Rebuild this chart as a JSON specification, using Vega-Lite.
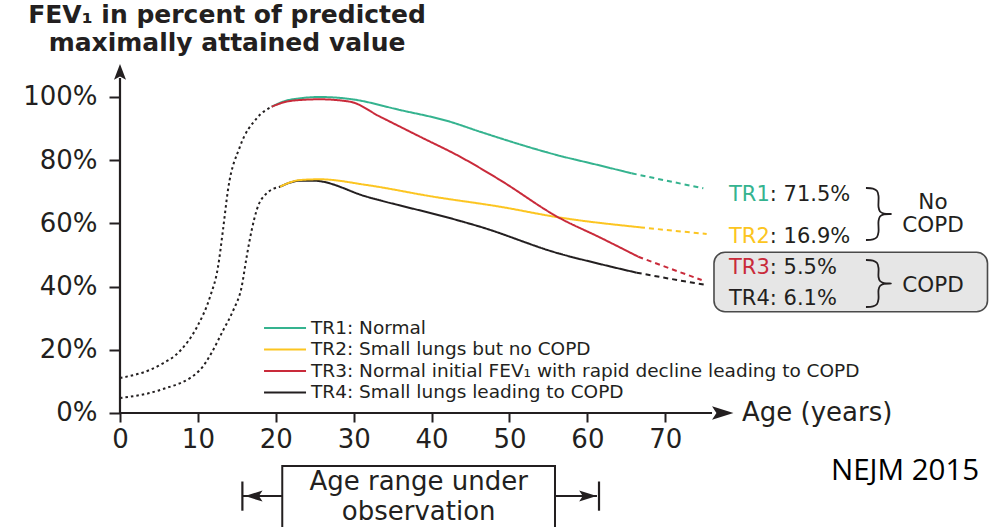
{
  "$schema": "https://vega.github.io/schema/vega-lite/v6.json",
  "width": 1000,
  "height": 527,
  "padding": 0,
  "autosize": {"type": "none"},
  "background": "white",
  "config": {"view": {"stroke": null}, "font": "DejaVu Sans"},
  "datasets": {
    "tr": [
      {"s": "TR4", "seg": "solid", "x": 20.54, "y": 71.61},
      {"s": "TR4", "seg": "solid", "x": 23.11, "y": 73.51},
      {"s": "TR4", "seg": "solid", "x": 24.81, "y": 73.51},
      {"s": "TR4", "seg": "solid", "x": 31.67, "y": 68.45},
      {"s": "TR4", "seg": "solid", "x": 43.22, "y": 61.08},
      {"s": "TR4", "seg": "solid", "x": 46.21, "y": 58.96},
      {"s": "TR4", "seg": "solid", "x": 56.26, "y": 50.54},
      {"s": "TR4", "seg": "solid", "x": 61.62, "y": 47.15},
      {"s": "TR4", "seg": "solid", "x": 66.33, "y": 44.4},
      {"s": "TR4", "seg": "dash", "x": 66.33, "y": 44.4},
      {"s": "TR4", "seg": "dash", "x": 70.8, "y": 42.4},
      {"s": "TR4", "seg": "dash", "x": 75.31, "y": 40.51},
      {"s": "TR2", "seg": "solid", "x": 20.54, "y": 71.61},
      {"s": "TR2", "seg": "solid", "x": 23.11, "y": 73.73},
      {"s": "TR2", "seg": "solid", "x": 25.67, "y": 73.96},
      {"s": "TR2", "seg": "solid", "x": 31.67, "y": 72.15},
      {"s": "TR2", "seg": "solid", "x": 40.22, "y": 68.45},
      {"s": "TR2", "seg": "solid", "x": 48.78, "y": 65.28},
      {"s": "TR2", "seg": "solid", "x": 56.26, "y": 61.93},
      {"s": "TR2", "seg": "solid", "x": 66.75, "y": 58.77},
      {"s": "TR2", "seg": "dash", "x": 66.75, "y": 58.77},
      {"s": "TR2", "seg": "dash", "x": 71.0, "y": 57.7},
      {"s": "TR2", "seg": "dash", "x": 75.31, "y": 56.65},
      {"s": "TR1", "seg": "solid", "x": 19.47, "y": 96.93},
      {"s": "TR1", "seg": "solid", "x": 21.18, "y": 98.73},
      {"s": "TR1", "seg": "solid", "x": 23.11, "y": 99.59},
      {"s": "TR1", "seg": "solid", "x": 25.67, "y": 100.0},
      {"s": "TR1", "seg": "solid", "x": 29.53, "y": 99.37},
      {"s": "TR1", "seg": "solid", "x": 35.94, "y": 95.89},
      {"s": "TR1", "seg": "solid", "x": 42.36, "y": 92.18},
      {"s": "TR1", "seg": "solid", "x": 46.21, "y": 89.02},
      {"s": "TR1", "seg": "solid", "x": 56.06, "y": 81.65},
      {"s": "TR1", "seg": "solid", "x": 61.62, "y": 78.32},
      {"s": "TR1", "seg": "solid", "x": 65.69, "y": 75.85},
      {"s": "TR1", "seg": "dash", "x": 65.69, "y": 75.85},
      {"s": "TR1", "seg": "dash", "x": 70.35, "y": 73.42},
      {"s": "TR1", "seg": "dash", "x": 74.88, "y": 71.11},
      {"s": "TR3", "seg": "solid", "x": 19.47, "y": 96.93},
      {"s": "TR3", "seg": "solid", "x": 21.18, "y": 98.42},
      {"s": "TR3", "seg": "solid", "x": 23.11, "y": 99.05},
      {"s": "TR3", "seg": "solid", "x": 25.67, "y": 99.27},
      {"s": "TR3", "seg": "solid", "x": 29.53, "y": 98.51},
      {"s": "TR3", "seg": "solid", "x": 33.38, "y": 93.77},
      {"s": "TR3", "seg": "solid", "x": 38.51, "y": 87.44},
      {"s": "TR3", "seg": "solid", "x": 43.65, "y": 81.11},
      {"s": "TR3", "seg": "solid", "x": 48.78, "y": 73.73},
      {"s": "TR3", "seg": "solid", "x": 56.26, "y": 61.93},
      {"s": "TR3", "seg": "solid", "x": 61.62, "y": 55.54},
      {"s": "TR3", "seg": "solid", "x": 66.53, "y": 49.46},
      {"s": "TR3", "seg": "dash", "x": 66.53, "y": 49.46},
      {"s": "TR3", "seg": "dash", "x": 70.6, "y": 45.73},
      {"s": "TR3", "seg": "dash", "x": 74.67, "y": 42.09}
    ],
    "child": [
      {"g": "hi", "x": 0, "y": 11.08},
      {"g": "hi", "x": 5.13, "y": 15.19},
      {"g": "hi", "x": 7.7, "y": 19.62},
      {"g": "hi", "x": 9.88, "y": 27.22},
      {"g": "hi", "x": 11.55, "y": 36.71},
      {"g": "hi", "x": 12.58, "y": 46.2},
      {"g": "hi", "x": 13.22, "y": 57.91},
      {"g": "hi", "x": 13.86, "y": 70.57},
      {"g": "hi", "x": 15.4, "y": 84.27},
      {"g": "hi", "x": 17.55, "y": 93.26},
      {"g": "hi", "x": 19.47, "y": 96.93},
      {"g": "lo", "x": 0, "y": 4.75},
      {"g": "lo", "x": 5.13, "y": 7.28},
      {"g": "lo", "x": 10.27, "y": 13.61},
      {"g": "lo", "x": 11.81, "y": 19.3},
      {"g": "lo", "x": 13.26, "y": 26.27},
      {"g": "lo", "x": 14.54, "y": 32.5},
      {"g": "lo", "x": 15.62, "y": 39.97},
      {"g": "lo", "x": 16.26, "y": 49.46},
      {"g": "lo", "x": 16.91, "y": 57.91},
      {"g": "lo", "x": 17.55, "y": 64.24},
      {"g": "lo", "x": 18.83, "y": 69.53},
      {"g": "lo", "x": 20.54, "y": 71.61}
    ],
    "rules": [
      {"x": 0, "y": 0, "x2": 76, "y2": 0},
      {"x": 0, "y": 0, "x2": 0, "y2": 106},
      {"x": 15.79, "y": -26.27, "x2": 20.83, "y2": -26.27},
      {"x": 55.84, "y": -26.27, "x2": 61.23, "y2": -26.27},
      {"x": 15.71, "y": -21.68, "x2": 15.71, "y2": -30.92},
      {"x": 61.49, "y": -21.68, "x2": 61.49, "y2": -30.92}
    ],
    "arr": [
      {"d": "up", "x": 0, "y": 107.9},
      {"d": "right", "x": 77.34, "y": 0},
      {"d": "left", "x": 17.2, "y": -26.27},
      {"d": "rightS", "x": 60.04, "y": -26.27}
    ],
    "boxes": [
      {"k": "copd", "x": 76.25, "x2": 111.36, "y": 50.85, "y2": 32.06},
      {"k": "obs", "x": 20.83, "x2": 55.84, "y": -16.77, "y2": -40}
    ],
    "leg": [
      {"s": "TR1", "x": 18.49, "x2": 23.88, "y": 26.9},
      {"s": "TR2", "x": 18.49, "x2": 23.88, "y": 20.1},
      {"s": "TR3", "x": 18.49, "x2": 23.88, "y": 13.3},
      {"s": "TR4", "x": 18.49, "x2": 23.88, "y": 6.5}
    ],
    "legt": [
      {"x": 24.52, "y": 26.9, "t": "TR1: Normal"},
      {"x": 24.52, "y": 20.1, "t": "TR2: Small lungs but no COPD"},
      {"x": 24.52, "y": 13.3, "t": "TR3: Normal initial FEV₁ with rapid decline leading to COPD"},
      {"x": 24.52, "y": 6.5, "t": "TR4: Small lungs leading to COPD"}
    ],
    "ann": [
      {"s": "TR1", "x": 78.18, "y": 67.09, "rest": ": 71.5%"},
      {"s": "TR2", "x": 78.18, "y": 53.7, "rest": ": 16.9%"},
      {"s": "TR3", "x": 78.18, "y": 43.89, "rest": ": 5.5%"},
      {"s": "TR4", "x": 78.18, "y": 34.18, "rest": ": 6.1%"}
    ],
    "txt": [
      {"k": "title", "x": 13.74, "y": 123.26, "t": "FEV₁ in percent of predicted"},
      {"k": "title", "x": 13.74, "y": 114.4, "t": "maximally attained value"},
      {"k": "age", "x": 79.85, "y": -2.53, "t": "Age (years)"},
      {"k": "copd", "x": 104.36, "y": 64.56, "t": "No"},
      {"k": "copd", "x": 104.36, "y": 57.28, "t": "COPD"},
      {"k": "copd", "x": 104.36, "y": 38.29, "t": "COPD"},
      {"k": "obs", "x": 38.34, "y": -24.37, "t": "Age range under"},
      {"k": "obs", "x": 38.34, "y": -33.86, "t": "observation"},
      {"k": "nejm", "x": 91.27, "y": -21.2, "t": "NEJM 2015"}
    ],
    "brace": [
      {"b": 1, "i": 1, "x": 95.76, "y": 71.2},
      {"b": 1, "i": 2, "x": 96.66, "y": 71.01},
      {"b": 1, "i": 3, "x": 97.18, "y": 70.25},
      {"b": 1, "i": 4, "x": 97.37, "y": 68.67},
      {"b": 1, "i": 5, "x": 97.37, "y": 65.19},
      {"b": 1, "i": 6, "x": 97.56, "y": 63.77},
      {"b": 1, "i": 7, "x": 98.07, "y": 63.1},
      {"b": 1, "i": 8, "x": 98.97, "y": 62.97},
      {"b": 1, "i": 9, "x": 98.07, "y": 62.85},
      {"b": 1, "i": 10, "x": 97.56, "y": 62.18},
      {"b": 1, "i": 11, "x": 97.37, "y": 60.76},
      {"b": 1, "i": 12, "x": 97.37, "y": 57.28},
      {"b": 1, "i": 13, "x": 97.18, "y": 55.7},
      {"b": 1, "i": 14, "x": 96.66, "y": 54.94},
      {"b": 1, "i": 15, "x": 95.76, "y": 54.75},
      {"b": 2, "i": 1, "x": 95.76, "y": 48.42},
      {"b": 2, "i": 2, "x": 96.66, "y": 48.23},
      {"b": 2, "i": 3, "x": 97.18, "y": 47.47},
      {"b": 2, "i": 4, "x": 97.37, "y": 45.89},
      {"b": 2, "i": 5, "x": 97.37, "y": 43.04},
      {"b": 2, "i": 6, "x": 97.56, "y": 41.77},
      {"b": 2, "i": 7, "x": 98.07, "y": 41.11},
      {"b": 2, "i": 8, "x": 98.97, "y": 40.98},
      {"b": 2, "i": 9, "x": 98.07, "y": 40.85},
      {"b": 2, "i": 10, "x": 97.56, "y": 40.19},
      {"b": 2, "i": 11, "x": 97.37, "y": 38.92},
      {"b": 2, "i": 12, "x": 97.37, "y": 36.08},
      {"b": 2, "i": 13, "x": 97.18, "y": 34.49},
      {"b": 2, "i": 14, "x": 96.66, "y": 33.73},
      {"b": 2, "i": 15, "x": 95.76, "y": 33.54}
    ]
  },
  "encoding": {
    "x": {
      "field": "x", "type": "quantitative", "title": null,
      "scale": {"domain": [-15.404, 112.965], "nice": false, "zero": false},
      "axis": {
        "orient": "bottom", "offset": -114, "values": [0, 10, 20, 30, 40, 50, 60, 70],
        "domain": false, "grid": false, "tickSize": 9, "tickWidth": 2, "tickColor": "#231f20",
        "labelFont": "DejaVu Sans", "labelFontSize": 26, "labelColor": "#231f20",
        "labelPadding": 4, "labelFlush": false, "labelOverlap": false, "title": null
      }
    },
    "y": {
      "field": "y", "type": "quantitative", "title": null,
      "scale": {"domain": [-36.076, 130.696], "nice": false, "zero": false},
      "axis": {
        "orient": "left", "offset": -120, "values": [0, 20, 40, 60, 80, 100],
        "labelExpr": "datum.value + '%'",
        "domain": false, "grid": false, "tickSize": 11, "tickWidth": 2, "tickColor": "#231f20",
        "labelFont": "DejaVu Sans", "labelFontSize": 26, "labelColor": "#231f20",
        "labelPadding": 12, "labelFlush": false, "labelOverlap": false, "title": null
      }
    }
  },
  "layer": [
    {
      "data": {"name": "boxes"},
      "transform": [{"filter": "datum.k == 'copd'"}],
      "mark": {"type": "rect", "fill": "#e6e6e6", "stroke": "#4a4a4a", "strokeWidth": 1.6, "cornerRadius": 11},
      "encoding": {"x2": {"field": "x2"}, "y2": {"field": "y2"}}
    },
    {
      "data": {"name": "boxes"},
      "transform": [{"filter": "datum.k == 'obs'"}],
      "mark": {"type": "rect", "fill": "white", "stroke": "#231f20", "strokeWidth": 2},
      "encoding": {"x2": {"field": "x2"}, "y2": {"field": "y2"}}
    },
    {
      "data": {"name": "rules"},
      "mark": {"type": "rule", "color": "#231f20", "strokeWidth": 2.2},
      "encoding": {"x2": {"field": "x2"}, "y2": {"field": "y2"}}
    },
    {
      "data": {"name": "arr"},
      "transform": [{"filter": "datum.d == 'up'"}],
      "mark": {"type": "point", "filled": true, "color": "#231f20", "opacity": 1, "size": 256, "shape": "M0,-1L0.75,0.95L0,0.55L-0.75,0.95Z"}
    },
    {
      "data": {"name": "arr"},
      "transform": [{"filter": "datum.d == 'right'"}],
      "mark": {"type": "point", "filled": true, "color": "#231f20", "opacity": 1, "size": 484, "shape": "M1,0L-0.95,0.62L-0.55,0L-0.95,-0.62Z"}
    },
    {
      "data": {"name": "arr"},
      "transform": [{"filter": "datum.d == 'left'"}],
      "mark": {"type": "point", "filled": true, "color": "#231f20", "opacity": 1, "size": 324, "shape": "M-1,0L0.95,0.62L0.55,0L0.95,-0.62Z"}
    },
    {
      "data": {"name": "arr"},
      "transform": [{"filter": "datum.d == 'rightS'"}],
      "mark": {"type": "point", "filled": true, "color": "#231f20", "opacity": 1, "size": 324, "shape": "M1,0L-0.95,0.62L-0.55,0L-0.95,-0.62Z"}
    },
    {
      "data": {"name": "child"},
      "mark": {"type": "line", "interpolate": "monotone", "color": "#231f20", "strokeWidth": 2, "strokeDash": [2.5, 3]},
      "encoding": {"detail": {"field": "g"}}
    },
    {
      "data": {"name": "tr"},
      "mark": {"type": "line", "interpolate": "monotone", "strokeWidth": 2},
      "encoding": {
        "color": {"field": "s", "type": "nominal", "scale": {"domain": ["TR1", "TR2", "TR3", "TR4"], "range": ["#35b38f", "#fcc521", "#c92a3a", "#231f20"]}, "legend": null},
        "strokeDash": {"field": "seg", "type": "nominal", "scale": {"domain": ["solid", "dash"], "range": [[1, 0], [5, 4]]}, "legend": null}
      }
    },
    {
      "data": {"name": "leg"},
      "mark": {"type": "rule", "strokeWidth": 2},
      "encoding": {
        "x2": {"field": "x2"},
        "color": {"field": "s", "type": "nominal", "scale": {"domain": ["TR1", "TR2", "TR3", "TR4"], "range": ["#35b38f", "#fcc521", "#c92a3a", "#231f20"]}, "legend": null}
      }
    },
    {
      "data": {"name": "legt"},
      "mark": {"type": "text", "align": "left", "baseline": "middle", "font": "DejaVu Sans", "fontSize": 18.5, "color": "#231f20"},
      "encoding": {"text": {"field": "t"}}
    },
    {
      "data": {"name": "ann"},
      "mark": {"type": "text", "align": "left", "baseline": "alphabetic", "font": "DejaVu Sans", "fontSize": 21},
      "encoding": {
        "text": {"field": "s"},
        "color": {"field": "s", "type": "nominal", "scale": {"domain": ["TR1", "TR2", "TR3", "TR4"], "range": ["#35b38f", "#fcc521", "#c92a3a", "#231f20"]}, "legend": null}
      }
    },
    {
      "data": {"name": "ann"},
      "mark": {"type": "text", "align": "left", "baseline": "alphabetic", "font": "DejaVu Sans", "fontSize": 21, "dx": 40.8, "color": "#231f20"},
      "encoding": {"text": {"field": "rest"}}
    },
    {
      "data": {"name": "txt"},
      "transform": [{"filter": "datum.k == 'title'"}],
      "mark": {"type": "text", "align": "center", "baseline": "alphabetic", "font": "DejaVu Sans", "fontWeight": "bold", "fontSize": 25, "color": "#231f20"},
      "encoding": {"text": {"field": "t"}}
    },
    {
      "data": {"name": "txt"},
      "transform": [{"filter": "datum.k == 'age'"}],
      "mark": {"type": "text", "align": "left", "baseline": "alphabetic", "font": "DejaVu Sans", "fontSize": 26, "color": "#231f20"},
      "encoding": {"text": {"field": "t"}}
    },
    {
      "data": {"name": "txt"},
      "transform": [{"filter": "datum.k == 'copd'"}],
      "mark": {"type": "text", "align": "center", "baseline": "alphabetic", "font": "DejaVu Sans", "fontSize": 21.5, "color": "#231f20"},
      "encoding": {"text": {"field": "t"}}
    },
    {
      "data": {"name": "txt"},
      "transform": [{"filter": "datum.k == 'obs'"}],
      "mark": {"type": "text", "align": "center", "baseline": "alphabetic", "font": "DejaVu Sans", "fontSize": 26, "color": "#231f20"},
      "encoding": {"text": {"field": "t"}}
    },
    {
      "data": {"name": "txt"},
      "transform": [{"filter": "datum.k == 'nejm'"}],
      "mark": {"type": "text", "align": "left", "baseline": "alphabetic", "font": "Open Sans", "fontSize": 29.5, "color": "#000000"},
      "encoding": {"text": {"field": "t"}}
    },
    {
      "data": {"name": "brace"},
      "mark": {"type": "line", "interpolate": "catmull-rom", "color": "#231f20", "strokeWidth": 1.8},
      "encoding": {"detail": {"field": "b"}, "order": {"field": "i", "type": "quantitative"}}
    }
  ]
}
